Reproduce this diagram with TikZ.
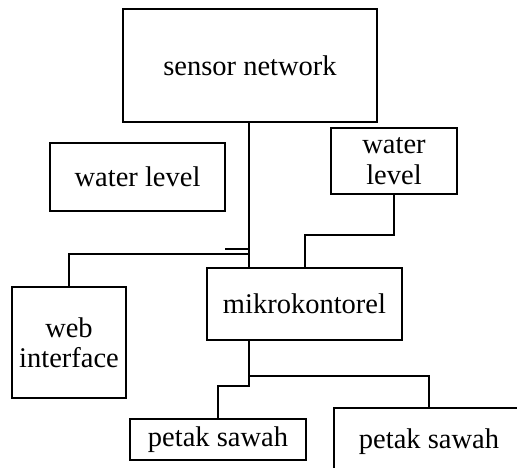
\documentclass[tikz,border=0pt]{standalone}
\usepackage{fontspec}
\setmainfont{Liberation Serif}
\begin{document}
\begin{tikzpicture}[x=1pt,y=-1pt,
  box/.style={draw=black,line width=2pt,fill=white,inner sep=0pt,align=center,
    font=\fontsize{28.5}{30.5}\selectfont},
  wire/.style={line width=2pt,draw=black}]
\useasboundingbox (0,0) rectangle (517,468);
\clip (0,0) rectangle (517,468);
\node[box,minimum width=254pt,minimum height=113pt] (sn) at (250,65.5) {sensor network};
\node[box,minimum width=175pt,minimum height=68pt] (wl1) at (137.5,177) {water level};
\node[box,minimum width=126pt,minimum height=66pt] (wl2) at (394,161) {water\\level};
\node[box,minimum width=195pt,minimum height=72pt] (mk) at (304.5,304) {mikrokontorel};
\node[box,minimum width=114pt,minimum height=111pt] (web) at (69,342.5) {web\\interface};
\node[box,minimum width=176pt,minimum height=41pt] (p1) at (218,439.5) {petak sawah};
\node[box,minimum width=190pt,minimum height=68pt] (p2) at (429,442) {petak sawah};
\coordinate (top) at (249,122);
\coordinate (mkin) at (249,268);
\coordinate (jweb) at (249,254);
\coordinate (stubA) at (225,249);
\coordinate (stubB) at (249,249);
\coordinate (wlbend) at (394,235);
\coordinate (mkout) at (249,340);
\coordinate (jb1) at (249,376);
\coordinate (jb2) at (249,386);
\draw[wire] (top) -- (mkin);
\draw[wire] (wl2.south) -- (wlbend) -| (mk.north);
\draw[wire] (jweb) -| (web.north);
\draw[wire] (stubA) -- (stubB);
\draw[wire] (mkout) -- (jb2) -| (p1.north);
\draw[wire] (jb1) -| (p2.north);
\end{tikzpicture}
\end{document}
